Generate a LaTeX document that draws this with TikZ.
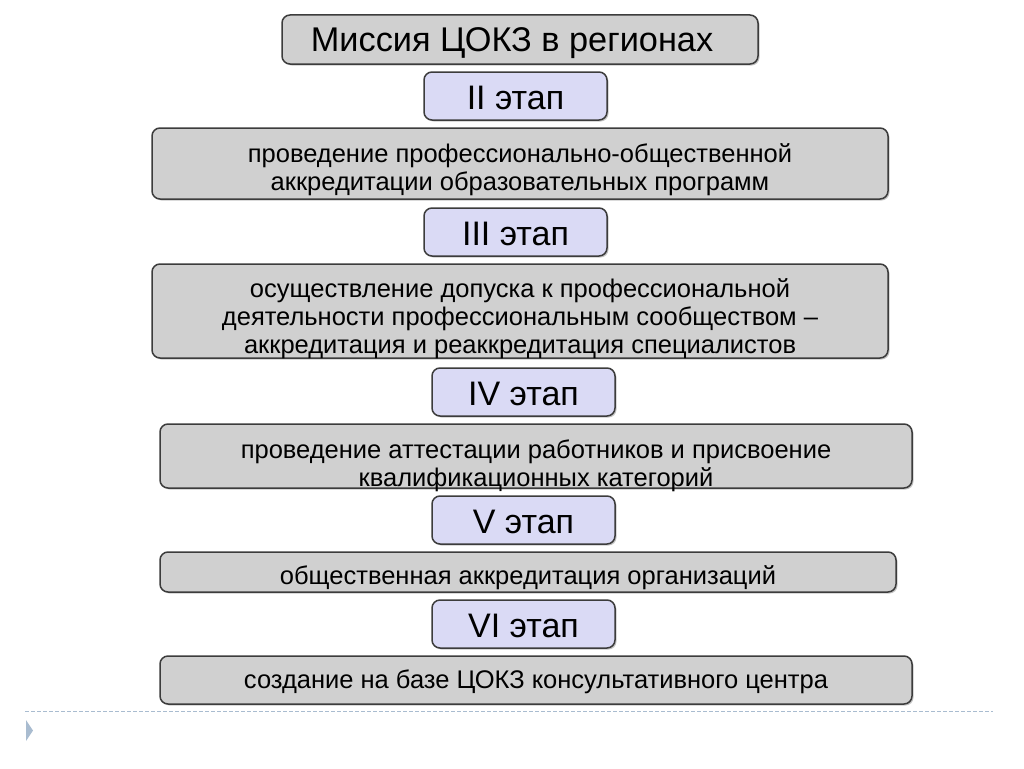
\documentclass[tikz,border=0pt]{standalone}
\usepackage{fontspec}
\setmainfont{Liberation Sans}
\usetikzlibrary{positioning, shadows}
\definecolor{boxgray}{HTML}{D0D0D0}
\definecolor{stagelilac}{HTML}{DADAF5}
\definecolor{boxline}{HTML}{3C3C3C}
\definecolor{rulecol}{HTML}{A9BCD0}

\begin{document}
\begin{tikzpicture}[
	x=1pt, y=-1pt,
	box/.style={draw=boxline, line width=1.5pt, rounded corners=8pt, fill=boxgray,
		align=center, inner sep=0pt, font=\fontsize{25.5}{28}\selectfont,
		drop shadow={shadow xshift=1.5pt, shadow yshift=-1.5pt, fill=black!45}},
	stage/.style={box, fill=stagelilac, minimum width=183pt, minimum height=48pt,
		text height=36pt, text depth=10pt, font=\fontsize{34}{36}\selectfont}]
\useasboundingbox (0,0) rectangle (1024,768);

\node[box, minimum width=476pt, minimum height=49pt, text height=36pt, text depth=11pt,
	font=\fontsize{34.3}{36}\selectfont] (mission) at (520,39.5) {Миссия ЦОКЗ в регионах\hspace*{16pt}};

\node[stage] (st2) at (515.5,96) {II этап};
\node[box, minimum width=736pt, minimum height=71pt, text height=61pt, text depth=8pt] (accprog) at (520,163.5)
	{проведение профессионально-общественной\\аккредитации образовательных программ};

\node[stage] (st3) at (515.5,232) {III этап};
\node[box, minimum width=736pt, minimum height=94pt, text height=88pt, text depth=4pt] (accspec) at (520,311)
	{осуществление допуска к профессиональной\\деятельности профессиональным сообществом --\\аккредитация и реаккредитация специалистов};

\node[stage] (st4) at (523.5,392) {IV этап};
\node[box, minimum width=752pt, minimum height=64pt, text height=61pt, text depth=1pt] (attest) at (536,456)
	{проведение аттестации работников и присвоение\\квалификационных категорий};

\node[stage] (st5) at (523.5,520) {V этап};
\node[box, minimum width=736pt, minimum height=40pt, text height=31pt, text depth=7pt] (accorg) at (528,572)
	{общественная аккредитация организаций};

\node[stage] (st6) at (523.5,624) {VI этап};
\node[box, minimum width=752pt, minimum height=48pt, text height=31pt, text depth=15pt] (consult) at (536,680)
	{создание на базе ЦОКЗ консультативного центра};

\draw[rulecol, line width=1pt, dash pattern=on 4pt off 2pt] (25,711) -- (993,711);
\fill[rulecol] (26,720) -- (33,730.5) -- (26,741) -- cycle;
\end{tikzpicture}
\end{document}
